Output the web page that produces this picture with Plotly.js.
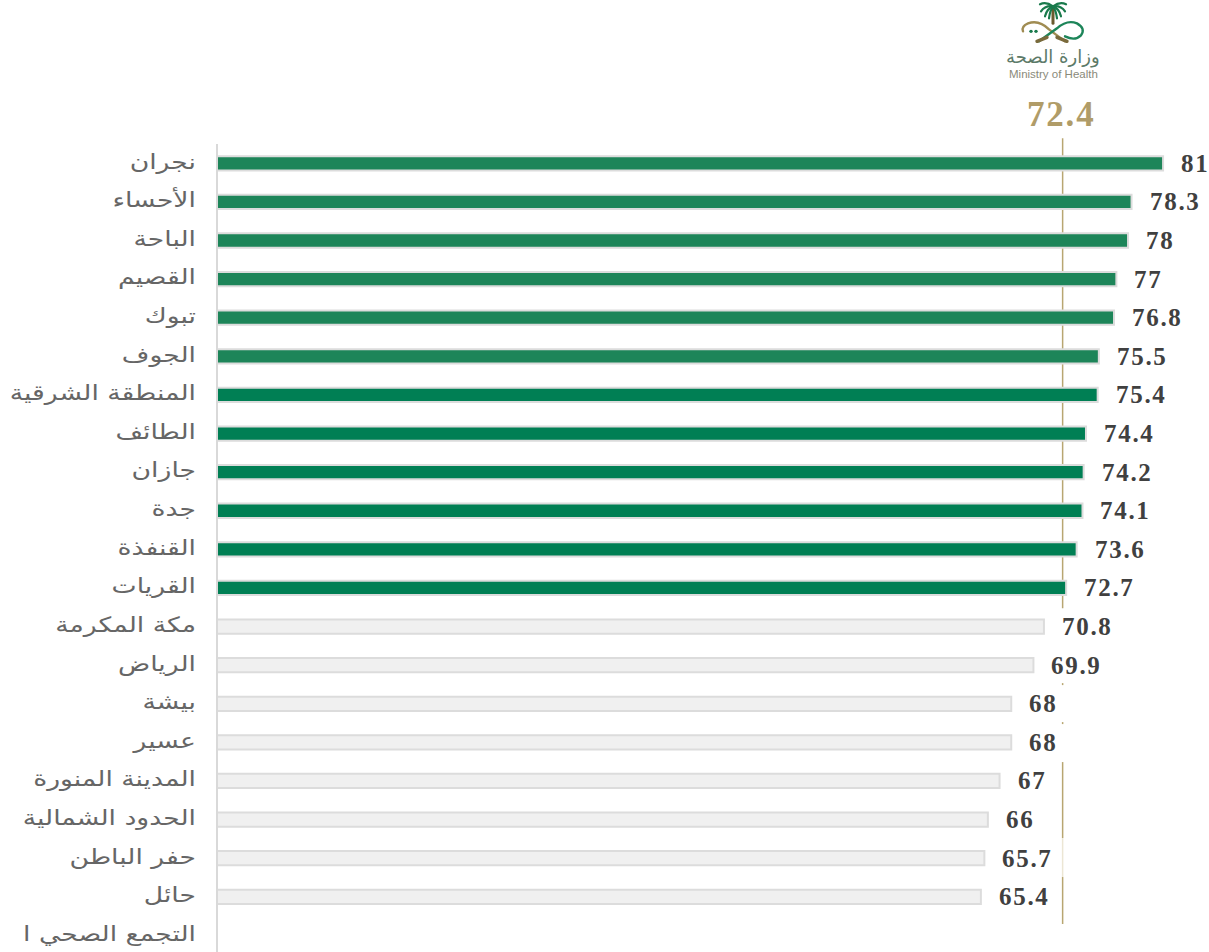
<!DOCTYPE html>
<html>
<head>
<meta charset="utf-8">
<script src="https://cdn.plot.ly/plotly-3.0.1.min.js"></script>
<style>
  html, body { margin: 0; padding: 0; background: #fff; overflow: hidden; }
  .annotation-text { letter-spacing: 1.7px; }
</style>
</head>
<body>
<div id="chart" style="width:1209px;height:952px"></div>
<script>
// Health cluster scores, best to worst; the last cluster has no published score
const clusters = ['نجران','الأحساء','الباحة','القصيم','تبوك','الجوف','المنطقة الشرقية','الطائف','جازان','جدة','القنفذة','القريات','مكة المكرمة','الرياض','بيشة','عسير','المدينة المنورة','الحدود الشمالية','حفر الباطن','حائل','التجمع الصحي ا'];
const scores = [81,78.3,78,77,76.8,75.5,75.4,74.4,74.2,74.1,73.6,72.7,70.8,69.9,68,68,67,66,65.7,65.4,null];
const barColors = ['#1d8559','#1d8559','#1d8559','#1d8559','#1d8559','#1d8559','#007f54','#007f54','#007f54','#007f54','#007f54','#007f54','#f0f0f0','#f0f0f0','#f0f0f0','#f0f0f0','#f0f0f0','#f0f0f0','#f0f0f0','#f0f0f0','#f0f0f0'];
const nationalAverage = 72.4;
const averageLineSpans = [[138,608],[683,685],[722,724],[762,838],[877,924]];
const averageLineFaintSpans = [[838,877]];

const W = 1209, H = 952, TOP = 143.7, LEFT = 217;
const paperY = py => (H - py) / (H - TOP);
const paperX = px => (px - LEFT) / (W - LEFT);
const spanShape = (s, color) => ({type:'line', layer:'below', xref:'x', yref:'paper', x0:nationalAverage, x1:nationalAverage,
  y0:paperY(s[0]), y1:paperY(s[1]), line:{color:color, width:1.5}});

// Ministry emblem: palm above two crossed swords
const emblem = `<svg xmlns="http://www.w3.org/2000/svg" viewBox="0 0 68 42">
<g fill="none" stroke-linecap="round">
<path d="M34 6 L34 22" stroke="#6b5a2e" stroke-width="3"/>
<g stroke="#1a7a4c" stroke-width="2.2">
<path d="M34 5 Q27 0 21 3"/><path d="M34 5 Q26 4 22 10"/><path d="M34 5 Q28 7 26 15"/><path d="M34 5 Q31 9 30 17"/>
<path d="M34 5 Q41 0 47 3"/><path d="M34 5 Q42 4 46 10"/><path d="M34 5 Q40 7 42 15"/><path d="M34 5 Q37 9 38 17"/>
</g>
<path d="M46 40 L30 28 Q20 18 9 22 Q2 25 4 30" stroke="#a08c52" stroke-width="2.4"/>
<path d="M20 40 L38 27 Q48 18 58 22 Q67 27 62 34 Q56 40 46 35" stroke="#1d8559" stroke-width="2.4"/>
<path d="M18 40 L28 36 M48 40 L38 36" stroke="#7a6a3c" stroke-width="3.4"/>
</g>
<circle cx="12" cy="30" r="1.7" fill="#1a7a4c"/><circle cx="17" cy="30" r="1.7" fill="#1a7a4c"/>
</svg>`;

const bars = {
  type:'bar', orientation:'h', x:scores, y:clusters, width:0.37,
  marker:{color:barColors, line:{color:'#dcdcdc', width:2}},
  hoverinfo:'x+y'
};

const valueLabels = scores.map((v,i) => v === null ? null : ({
  x:v, y:clusters[i], xref:'x', yref:'y', text:String(v), showarrow:false,
  xanchor:'left', xshift:16, yshift:0,
  font:{family:'"Liberation Serif", serif', size:25, color:'#404040', weight:700}
})).filter(Boolean);

const layout = {
  width:W, height:H, paper_bgcolor:'#fff', plot_bgcolor:'#fff', showlegend:false,
  margin:{l:LEFT, r:0, t:TOP, b:0, pad:0},
  bargap:0.6,
  xaxis:{range:[0, 992/11.68], visible:false, fixedrange:true},
  yaxis:{type:'category', categoryorder:'array', categoryarray:clusters, range:[20.43,-0.5], autorange:false,
    showline:false, showgrid:false, zeroline:false, ticks:'',
    ticklabelstandoff:20, tickfont:{family:'"DejaVu Sans", sans-serif', size:21, color:'#666666'}, fixedrange:true},
  shapes:[
    ...averageLineSpans.map(s=>spanShape(s,'#b8a671')),
    ...averageLineFaintSpans.map(s=>spanShape(s,'#ece6d4')),
    {type:'line', layer:'above', xref:'paper', yref:'paper', x0:0, x1:0, y0:0, y1:1, line:{color:'#d9d9d9', width:2}}
  ],
  images:[{source:'data:image/svg+xml;charset=utf-8,'+encodeURIComponent(emblem), xref:'paper', yref:'paper',
    x:paperX(1019), y:paperY(1), sizex:68/(W-LEFT), sizey:42/(H-TOP), xanchor:'left', yanchor:'top', sizing:'contain', layer:'above'}],
  annotations:[
    ...valueLabels,
    {xref:'x', yref:'paper', x:nationalAverage, y:paperY(114), xshift:-2, text:'<span style="letter-spacing:1.8px">'+nationalAverage+'</span>', showarrow:false, xanchor:'center', yanchor:'middle',
      font:{family:'"Liberation Serif", serif', size:35, color:'#b09c68', weight:700}},
    {xref:'paper', yref:'paper', x:paperX(1053), y:paperY(57), text:'<span style="letter-spacing:0">وزارة الصحة</span>', showarrow:false, xanchor:'center', yanchor:'middle',
      font:{family:'"DejaVu Sans", sans-serif', size:18, color:'#5c7a68'}},
    {xref:'paper', yref:'paper', x:paperX(1053), y:paperY(74), text:'<span style="letter-spacing:0">Ministry of Health</span>', showarrow:false, xanchor:'center', yanchor:'middle',
      font:{family:'"Liberation Sans", sans-serif', size:11.5, color:'#8a8a7a'}}
  ]
};

// Stretch the Arabic tick labels horizontally from their right edge; the installed face runs narrow
const stretchTickLabels = gd => {
  gd.querySelectorAll('.ytick text').forEach(t => {
    const x = parseFloat(t.getAttribute('x')) || 0;
    const base = t.getAttribute('transform') || '';
    t.setAttribute('transform', `${base} translate(${x},-2) scale(1.27,1) translate(${-x},0)`);
  });
};

Plotly.newPlot('chart', [bars], layout, {displayModeBar:false, responsive:false}).then(stretchTickLabels);
</script>
</body>
</html>
